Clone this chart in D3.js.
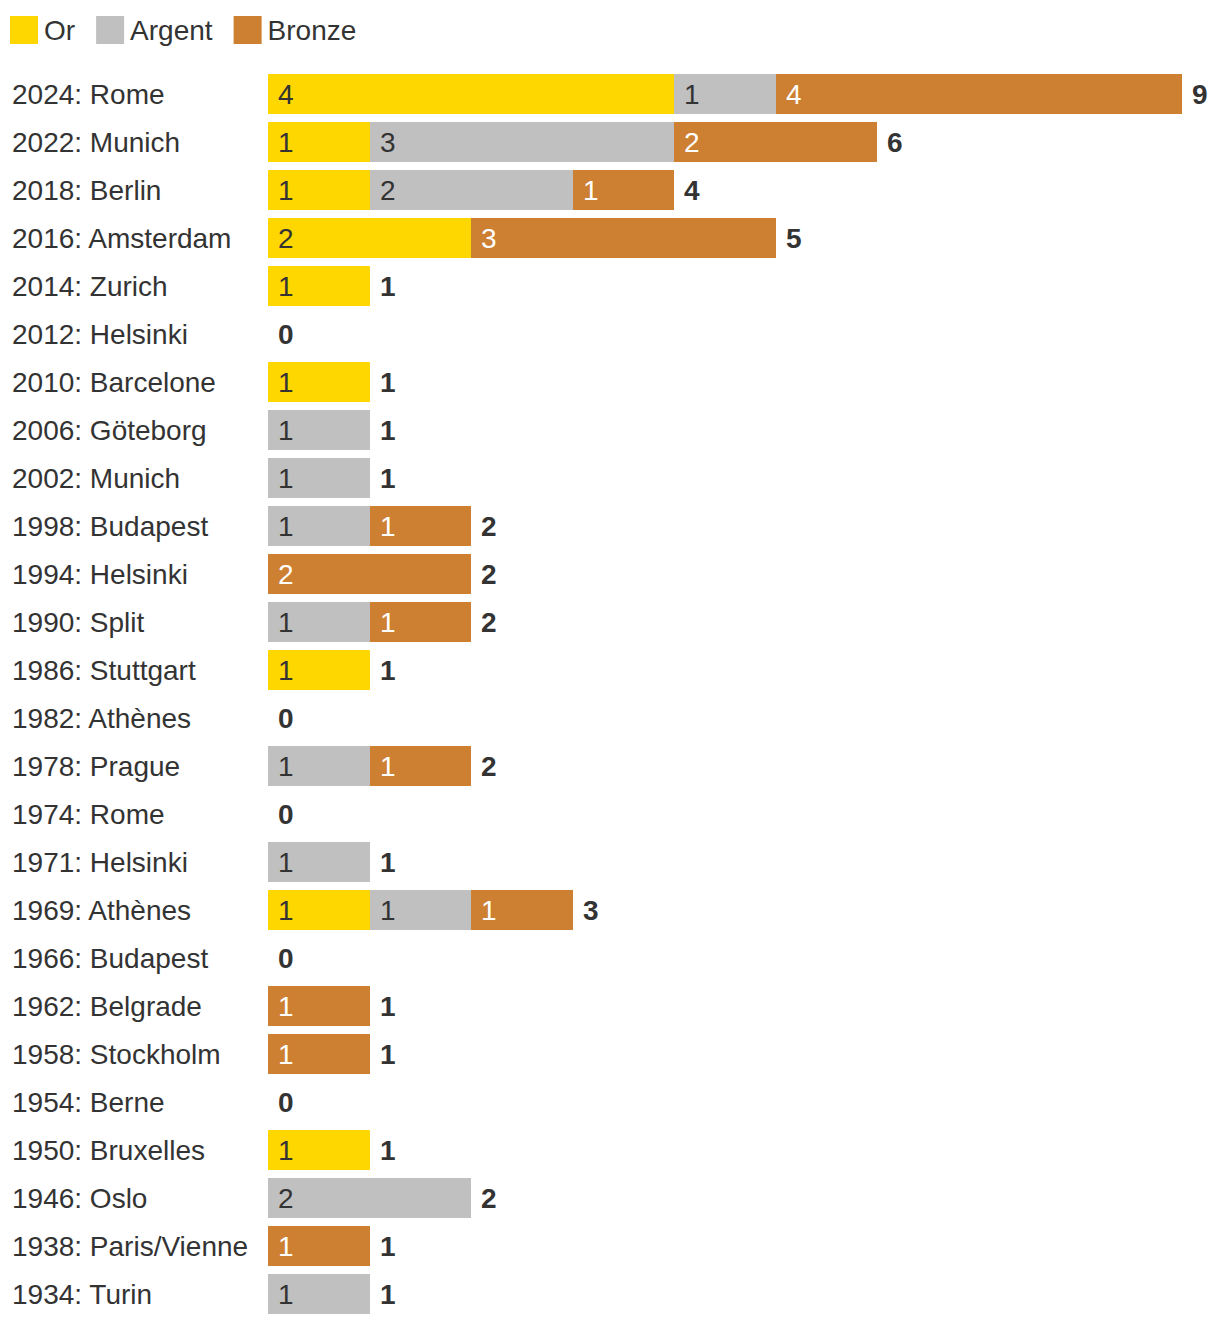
<!DOCTYPE html>
<html>
<head>
<meta charset="utf-8">
<script src="https://cdn.jsdelivr.net/npm/d3@7"></script>
<style>
  body { margin: 0; background: #fff; }
  svg text { font-family: "Liberation Sans", Arial, sans-serif; }
</style>
</head>
<body>
<div id="chart"></div>
<script>
// --data--
const editions = ["2024: Rome", "2022: Munich", "2018: Berlin", "2016: Amsterdam", "2014: Zurich",
  "2012: Helsinki", "2010: Barcelone", "2006: Göteborg", "2002: Munich", "1998: Budapest",
  "1994: Helsinki", "1990: Split", "1986: Stuttgart", "1982: Athènes", "1978: Prague",
  "1974: Rome", "1971: Helsinki", "1969: Athènes", "1966: Budapest", "1962: Belgrade",
  "1958: Stockholm", "1954: Berne", "1950: Bruxelles", "1946: Oslo", "1938: Paris/Vienne", "1934: Turin"];
const gold   = [4, 1, 1, 2, 1, 0, 1, 0, 0, 0, 0, 0, 1, 0, 0, 0, 0, 1, 0, 0, 0, 0, 1, 0, 0, 0];
const silver = [1, 3, 2, 0, 0, 0, 0, 1, 1, 1, 0, 1, 0, 0, 1, 0, 1, 1, 0, 0, 0, 0, 0, 2, 0, 1];
const bronze = [4, 2, 1, 3, 0, 0, 0, 0, 0, 1, 2, 1, 0, 0, 1, 0, 0, 1, 0, 1, 1, 0, 0, 0, 1, 0];
const medals = ["Or", "Argent", "Bronze"];

const colors = { "Or": "#ffd700", "Argent": "#c0c0c0", "Bronze": "#cd7f32" };
const textCol = { "Or": "#333333", "Argent": "#333333", "Bronze": "#ffffff" };

const W = 1220, H = 1326;
const FS = 28;
const svg = d3.select("#chart").append("svg").attr("width", W).attr("height", H);

// table for the stack
const rows = editions.map((e, i) => ({ name: e, "Or": gold[i], "Argent": silver[i], "Bronze": bronze[i] }));
const series = d3.stack().keys(medals)(rows);

const x = d3.scaleLinear().domain([0, 9]).range([268, 1182]);
const y = d3.scaleBand().domain(editions).range([70, 1318]).paddingInner(8 / 48).paddingOuter(4 / 48);

// --legend--
let lx = 10;
const leg = svg.append("g");
medals.forEach(m => {
  leg.append("rect").attr("x", lx).attr("y", 16).attr("width", 28).attr("height", 28).attr("fill", colors[m]);
  const t = leg.append("text").attr("x", lx + 34).attr("y", 40).attr("font-size", FS).attr("fill", "#333").text(m);
  lx += 34 + t.node().getComputedTextLength() + 21;
});

// --row labels--
svg.selectAll(".rowlab").data(editions).join("text")
  .attr("class", "rowlab")
  .attr("x", 12)
  .attr("y", d => y(d) + y.bandwidth() / 2 + 10)
  .attr("font-size", FS)
  .attr("fill", "#333")
  .text(d => d);

// --bars--
series.forEach(s => {
  const g = svg.append("g");
  const segs = s.filter(d => d[1] - d[0] > 0);
  g.selectAll("rect").data(segs).join("rect")
    .attr("x", d => Math.round(x(d[0])))
    .attr("y", d => y(d.data.name))
    .attr("width", d => Math.round(x(d[1])) - Math.round(x(d[0])))
    .attr("height", y.bandwidth())
    .attr("fill", colors[s.key]);
  g.selectAll("text").data(segs).join("text")
    .attr("x", d => Math.round(x(d[0])) + 10)
    .attr("y", d => y(d.data.name) + y.bandwidth() / 2 + 10)
    .attr("font-size", FS)
    .attr("fill", textCol[s.key])
    .text(d => d[1] - d[0]);
});

// --totals--
svg.selectAll(".total").data(rows).join("text")
  .attr("class", "total")
  .attr("x", d => Math.round(x(d["Or"] + d["Argent"] + d["Bronze"])) + 10)
  .attr("y", d => y(d.name) + y.bandwidth() / 2 + 10)
  .attr("font-size", FS)
  .attr("font-weight", "bold")
  .attr("fill", "#333")
  .text(d => d["Or"] + d["Argent"] + d["Bronze"]);
</script>
</body>
</html>
